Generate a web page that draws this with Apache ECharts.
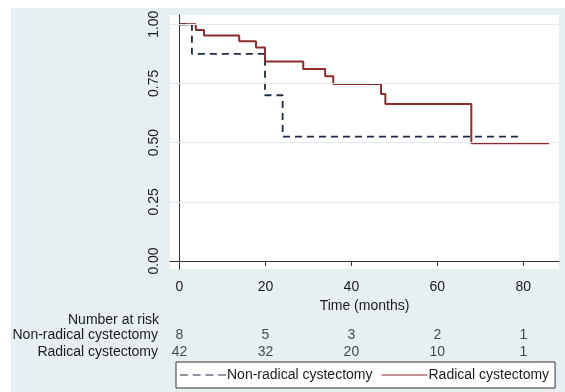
<!DOCTYPE html>
<html>
<head>
<meta charset="utf-8">
<script src="https://cdn.jsdelivr.net/npm/echarts@6/dist/echarts.min.js"></script>
<style>
  html, body { margin: 0; padding: 0; background: #fff; }
  #chart { width: 565px; height: 392px; }
</style>
</head>
<body>
<div id="chart"></div>
<script>
// Kaplan-Meier steps: [time (months), survival after that time]
var radicalSteps = [[0, 1], [3.8, 0.976], [5.7, 0.952], [13.9, 0.928], [17.8, 0.902], [19.9, 0.843],
  [28.8, 0.811], [33.9, 0.780], [35.8, 0.748], [46.9, 0.705], [47.9, 0.663], [67.9, 0.497], [86, 0.497]];
var nonRadicalSteps = [[0, 1], [2.9, 0.875], [19.9, 0.70], [24, 0.525], [79.9, 0.525]];

var xTicks = [0, 20, 40, 60, 80];
var yTicks = [0, 0.25, 0.5, 0.75, 1];
var yGrid = [0.25, 0.5, 0.75, 1];

var riskRows = ['Radical cystectomy', 'Non-radical cystectomy'];
var riskTimes = [0, 20, 40, 60, 80];
var riskNonRadical = [8, 5, 3, 2, 1];
var riskRadical = [42, 32, 20, 10, 1];

var FONT = 'Liberation Sans, Arial, sans-serif';
var INK = '#1c1c1c';
var RED = '#8e2b2b';
var NAVY = '#1d2a48';

function riskData(counts, row) {
  return riskTimes.map(function (t, i) { return [t, row, counts[i]]; });
}

var chart = echarts.init(document.getElementById('chart'));
chart.setOption({
  animation: false,
  textStyle: { fontFamily: FONT },
  graphic: [
    { type: 'rect', z: -10, shape: { x: 11, y: 8, width: 554, height: 384 }, style: { fill: '#e7eff3' } },
    { type: 'text', x: 159, y: 320, style: { text: 'Number at risk', font: '14px ' + FONT, fill: INK, textAlign: 'right', textVerticalAlign: 'middle' } }
  ],
  grid: [
    { left: 170, right: 6, top: 15, bottom: 123, show: true, backgroundColor: '#ffffff', borderWidth: 0 },
    { left: 170, right: 6, top: 327, height: 33 }
  ],
  xAxis: [
    {
      type: 'value', gridIndex: 0, min: -2.2, max: 88.3,
      name: 'Time (months)', nameLocation: 'middle', nameGap: 24,
      nameTextStyle: { fontSize: 14, color: INK, fontFamily: FONT },
      axisLine: { show: true, lineStyle: { color: '#333', width: 1 } },
      axisTick: { show: true, length: 5, customValues: xTicks, lineStyle: { color: '#333' } },
      axisLabel: { customValues: xTicks, fontSize: 14, color: INK, margin: 11, fontFamily: FONT },
      splitLine: { show: false }
    },
    { type: 'value', gridIndex: 1, min: -2.2, max: 88.3, show: false }
  ],
  yAxis: [
    {
      type: 'value', gridIndex: 0, min: -0.0338, max: 1.039,
      axisLine: { show: true, lineStyle: { color: '#333', width: 1 } },
      axisTick: { show: true, length: 5, customValues: yTicks, lineStyle: { color: '#333' } },
      axisLabel: {
        customValues: yTicks, rotate: 90, fontSize: 14, color: INK, margin: 9, fontFamily: FONT,
        formatter: function (v) { return v.toFixed(2); }
      },
      splitLine: { show: false }
    },
    {
      type: 'category', gridIndex: 1, data: riskRows,
      axisLine: { show: false }, axisTick: { show: false },
      axisLabel: { interval: 0, hideOverlap: false, fontSize: 14, color: INK, margin: 12, fontFamily: FONT }
    }
  ],
  legend: {
    left: 176, top: 362,
    data: [
      { name: 'Non-radical cystectomy', icon: 'path://M0,0h8v1h-8zM13,0h8v1h-8zM26,0h8v1h-8zM39,0h8v1h-8z' },
      { name: 'Radical cystectomy', icon: 'path://M0,0h46v1h-46z' }
    ],
    backgroundColor: '#ffffff', borderColor: '#333', borderWidth: 1,
    padding: [6, 6, 6, 4], itemGap: 9, itemWidth: 46, itemHeight: 2,
    textStyle: { fontSize: 14, color: INK, fontFamily: FONT, padding: [0, 0, 0, -4] }
  },
  series: [
    {
      type: 'line', xAxisIndex: 0, yAxisIndex: 0, data: [], z: 1, silent: true,
      markLine: {
        silent: true, symbol: 'none', label: { show: false },
        lineStyle: { color: '#e3ebef', width: 1, type: 'solid' },
        data: yGrid.map(function (v) { return { yAxis: v }; })
      }
    },
    {
      name: 'Non-radical cystectomy', type: 'line', step: 'end', z: 3,
      xAxisIndex: 0, yAxisIndex: 0, data: nonRadicalSteps,
      symbol: 'none', color: NAVY,
      lineStyle: { color: NAVY, width: 1.8, type: [7, 5] }
    },
    {
      name: 'Radical cystectomy', type: 'line', step: 'end', z: 4,
      xAxisIndex: 0, yAxisIndex: 0, data: radicalSteps,
      symbol: 'none', color: RED,
      lineStyle: { color: RED, width: 2 }
    },
    {
      type: 'scatter', xAxisIndex: 1, yAxisIndex: 1, data: riskData(riskNonRadical, riskRows[1]),
      symbolSize: 1, itemStyle: { color: 'rgba(0,0,0,0)' }, silent: true,
      label: { show: true, position: 'inside', fontSize: 14, color: INK, fontFamily: FONT, formatter: function (p) { return p.value[2]; } }
    },
    {
      type: 'scatter', xAxisIndex: 1, yAxisIndex: 1, data: riskData(riskRadical, riskRows[0]),
      symbolSize: 1, itemStyle: { color: 'rgba(0,0,0,0)' }, silent: true,
      label: { show: true, position: 'inside', fontSize: 14, color: INK, fontFamily: FONT, formatter: function (p) { return p.value[2]; } }
    }
  ]
});
</script>
</body>
</html>
